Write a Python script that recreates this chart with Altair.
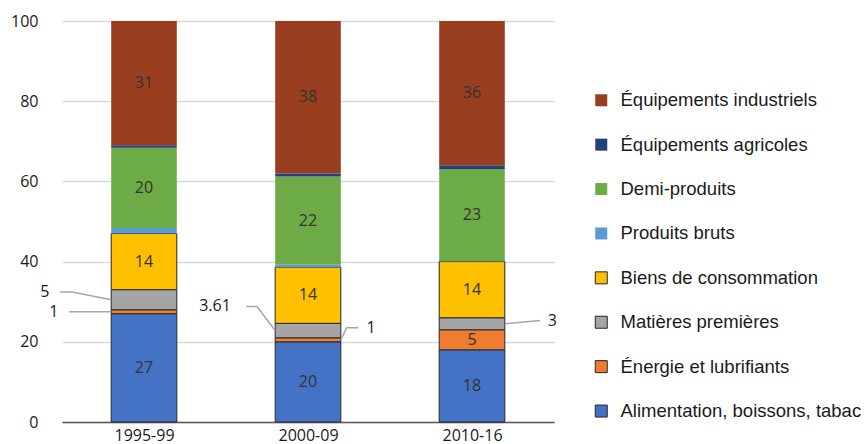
import json

import altair as alt
import pandas as pd

periods = ["1995-99", "2000-09", "2010-16"]

# Series in stacking order, bottom to top
series = [
    "Alimentation, boissons, tabac",
    "Énergie et lubrifiants",
    "Matières premières",
    "Biens de consommation",
    "Produits bruts",
    "Demi-produits",
    "Équipements agricoles",
    "Équipements industriels",
]

alimentation = [27, 20, 18]
energie = [1, 1, 5]
matieres = [5, 3.61, 3]
biens = [14, 14, 14]
produits_bruts = [1.4, 0.6, 0.1]
demi_produits = [20, 22, 23]
equip_agricoles = [0.6, 0.79, 0.9]
equip_industriels = [31, 38, 36]

values = [alimentation, energie, matieres, biens,
          produits_bruts, demi_produits, equip_agricoles, equip_industriels]

fill_colors = ["#4472C4", "#ED7D31", "#A5A5A5", "#FFC000",
               "#5B9BD5", "#6CAB46", "#233F7C", "#993E1F"]
stroke_colors = ["#262626"] * 4 + ["transparent"] * 4

# Which segments carry their value inside the bar
inside_labels = [
    (0, "Alimentation, boissons, tabac"), (1, "Alimentation, boissons, tabac"),
    (2, "Alimentation, boissons, tabac"), (2, "Énergie et lubrifiants"),
    (0, "Biens de consommation"), (1, "Biens de consommation"), (2, "Biens de consommation"),
    (0, "Demi-produits"), (1, "Demi-produits"), (2, "Demi-produits"),
    (0, "Équipements industriels"), (1, "Équipements industriels"),
    (2, "Équipements industriels"),
]

# Callouts for thin segments: (period, series, side, elbow points, label point)
# points are offsets (x in band units, y in %) from the segment's edge midpoint
callouts = [
    (0, "Matières premières", "left", [(-0.239, 1.9), (-0.312, 1.9)], (-0.404, 1.9)),
    (0, "Énergie et lubrifiants", "left", [(-0.257, 0.0)], (-0.35, 0.0)),
    (1, "Matières premières", "left", [(-0.111, 6.0), (-0.178, 6.0)], (-0.367, 6.0)),
    (1, "Énergie et lubrifiants", "right", [(0.036, 3.0), (0.107, 3.0)], (0.184, 3.0)),
    (2, "Matières premières", "right", [(0.215, 0.8)], (0.29, 0.8)),
]

BAR_HALF = 0.2
NUM_FONT = "Open Sans"
LEGEND_FONT = "Liberation Sans"

rows = []
for i, p in enumerate(periods):
    for k, s in enumerate(series):
        rows.append({
            "period": p, "idx": i, "series": s, "order": k,
            "value": values[k][i],
            "inside": (i, s) in inside_labels,
        })
df = pd.DataFrame(rows)

# leader lines and callout labels, anchored at the segment edges
path_rows, label_rows = [], []
for n, (i, s, side, pts, lab) in enumerate(callouts):
    k = series.index(s)
    base = sum(values[j][i] for j in range(k))
    mid = base + values[k][i] / 2
    edge = i + 0.5 + (BAR_HALF if side == "right" else -BAR_HALF)
    path_rows.append({"id": n, "step": 0, "px": edge, "py": mid})
    for m, (dx, dy) in enumerate(pts, start=1):
        path_rows.append({"id": n, "step": m, "px": edge + dx, "py": mid + dy})
    label_rows.append({"px": edge + lab[0], "py": mid + lab[1], "value": values[k][i]})
paths = pd.DataFrame(path_rows)
callout_labels = pd.DataFrame(label_rows)

legend_order = series[::-1]
x_scale = alt.Scale(domain=[0, len(periods)], nice=False, zero=False)
y_scale = alt.Scale(domain=[0, 100], nice=False)

label_expr = json.dumps(periods) + "[floor(datum.value)]"
x_axis = alt.Axis(values=[i + 0.5 for i in range(len(periods))], labelExpr=label_expr,
                  grid=False, ticks=False, domainColor="#595959", domainWidth=1.5,
                  labelFont=NUM_FONT, labelFontSize=16, labelColor="#1a1a1a",
                  labelPadding=5, title=None)
y_axis = alt.Axis(values=list(range(0, 101, 20)), grid=True, gridColor="#d9d9d9",
                  gridWidth=1.5, domain=False, ticks=False, labelPadding=24,
                  labelFont=NUM_FONT, labelFontSize=16, labelColor="#1a1a1a",
                  title=None)

legend = alt.Legend(title=None, orient="none", legendX=530, legendY=70,
                    symbolType="square", symbolSize=144, symbolStrokeWidth=1,
                    labelFont=LEGEND_FONT, labelFontSize=18.5, labelColor="#1a1a1a",
                    labelOffset=10, rowPadding=25.4, labelLimit=400)

base = alt.Chart(df).transform_stack(
    stack="value", groupby=["period"], as_=["y0", "y1"],
    sort=[alt.SortField("order", order="ascending")],
).transform_calculate(
    x0=f"datum.idx + 0.5 - {BAR_HALF}",
    x1=f"datum.idx + 0.5 + {BAR_HALF}",
    xc="datum.idx + 0.5",
    ym="(datum.y0 + datum.y1) / 2",
)

bars = base.mark_bar(strokeWidth=1).encode(
    x=alt.X("x0:Q", scale=x_scale, axis=x_axis),
    x2="x1:Q",
    y=alt.Y("y0:Q", scale=y_scale, axis=y_axis),
    y2="y1:Q",
    fill=alt.Fill("series:N", scale=alt.Scale(domain=legend_order, range=fill_colors[::-1]),
                  legend=legend),
    stroke=alt.Stroke("series:N", scale=alt.Scale(domain=legend_order, range=stroke_colors[::-1]),
                      legend=legend),
)

bar_text = base.transform_filter("datum.inside").mark_text(
    font=NUM_FONT, fontSize=16, color="#333333", baseline="middle", align="center",
).encode(
    x=alt.X("xc:Q", scale=x_scale),
    y=alt.Y("ym:Q", scale=y_scale),
    text=alt.Text("value:Q", format="~g"),
)

leaders = alt.Chart(paths).mark_line(color="#a6a6a6", strokeWidth=1.5).encode(
    x=alt.X("px:Q", scale=x_scale),
    y=alt.Y("py:Q", scale=y_scale),
    detail="id:N",
    order="step:O",
)

leader_text = alt.Chart(callout_labels).mark_text(
    font=NUM_FONT, fontSize=16, color="#1a1a1a", baseline="middle", align="center",
).encode(
    x=alt.X("px:Q", scale=x_scale),
    y=alt.Y("py:Q", scale=y_scale),
    text=alt.Text("value:Q", format="~g"),
)

chart = alt.layer(bars, bar_text, leaders, leader_text).properties(
    width=492, height=401,
    autosize=alt.AutoSizeParams(type="none"),
    padding={"left": 62, "top": 21, "right": 310, "bottom": 22},
).configure_view(stroke=None)

chart.save("out.html", embed_options={"renderer": "svg", "actions": False})
